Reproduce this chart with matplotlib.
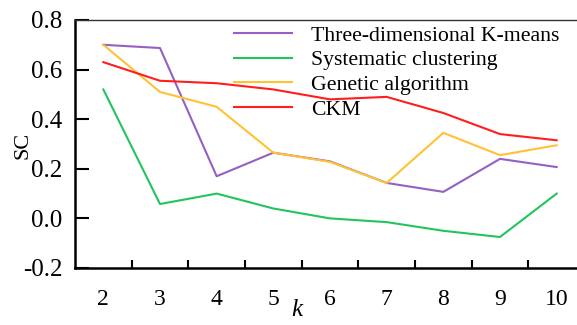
import matplotlib
matplotlib.use("Agg")
import matplotlib.pyplot as plt

k_values = [2, 3, 4, 5, 6, 7, 8, 9, 10]
three_d_kmeans = [0.70, 0.687, 0.17, 0.265, 0.23, 0.143, 0.107, 0.24, 0.207]
systematic = [0.52, 0.058, 0.10, 0.04, 0.0, -0.015, -0.05, -0.075, 0.10]
genetic = [0.70, 0.51, 0.45, 0.265, 0.228, 0.143, 0.345, 0.255, 0.295]
ckm = [0.63, 0.555, 0.545, 0.52, 0.48, 0.49, 0.425, 0.34, 0.315]
series_names = ["Three-dimensional K-means", "Systematic clustering",
                "Genetic algorithm", "CKM"]
colors = ["#9460c4", "#22c45c", "#ffc234", "#ff1e1e"]
y_ticks = [-0.2, 0.0, 0.2, 0.4, 0.6, 0.8]

plt.rcParams['font.family'] = ['Liberation Serif', 'DejaVu Serif']

fig = plt.figure(figsize=(5.77, 3.25), dpi=100)
W, H = 577, 325
ax = fig.add_axes([75 / W, 1 - 268 / H, (585 - 75) / W, (268 - 20) / H])

for vals, name, c in zip([three_d_kmeans, systematic, genetic, ckm], series_names, colors):
    ax.plot(k_values, vals, color=c, lw=1.5, label=name)

ax.set_xlim(1.5, 10.5)
ax.set_ylim(-0.2, 0.8)
ax.set_xticks([k + 0.5 for k in k_values[:-1]])
ax.set_xticklabels([])
ax.set_xticks(k_values, minor=True)
ax.set_xticklabels([str(k) for k in k_values], minor=True, fontsize=17)
ax.tick_params(axis='x', which='minor', length=0, pad=15)
ax.tick_params(axis='x', which='major', direction='in', length=6, width=1.5)
ax.set_yticks(y_ticks)
ax.set_yticklabels([f"{v:.1f}" for v in y_ticks], fontsize=18)
ax.tick_params(axis='y', direction='in', length=10, width=1.5, pad=9)

for s in ['left', 'bottom']:
    ax.spines[s].set_linewidth(1.8)
ax.spines['top'].set_linewidth(1.0)
ax.spines['top'].set_color('#333333')
ax.spines['right'].set_visible(False)

ax.set_ylabel("SC", fontsize=16)
ax.yaxis.set_label_coords(-(75 - 32) / 510, 1 - (145 - 20) / 248)
ax.text((297 - 75) / 510, -(310 - 268) / 248, "k", fontsize=18, style='italic',
        ha='center', va='center', transform=ax.transAxes)

leg = ax.legend(loc='upper left', bbox_to_anchor=(0.294, 1.013), frameon=False,
                fontsize=15.7, handlelength=2.66, handletextpad=0.87,
                labelspacing=0.2, borderaxespad=0)

fig.savefig("out.png", dpi=100)
